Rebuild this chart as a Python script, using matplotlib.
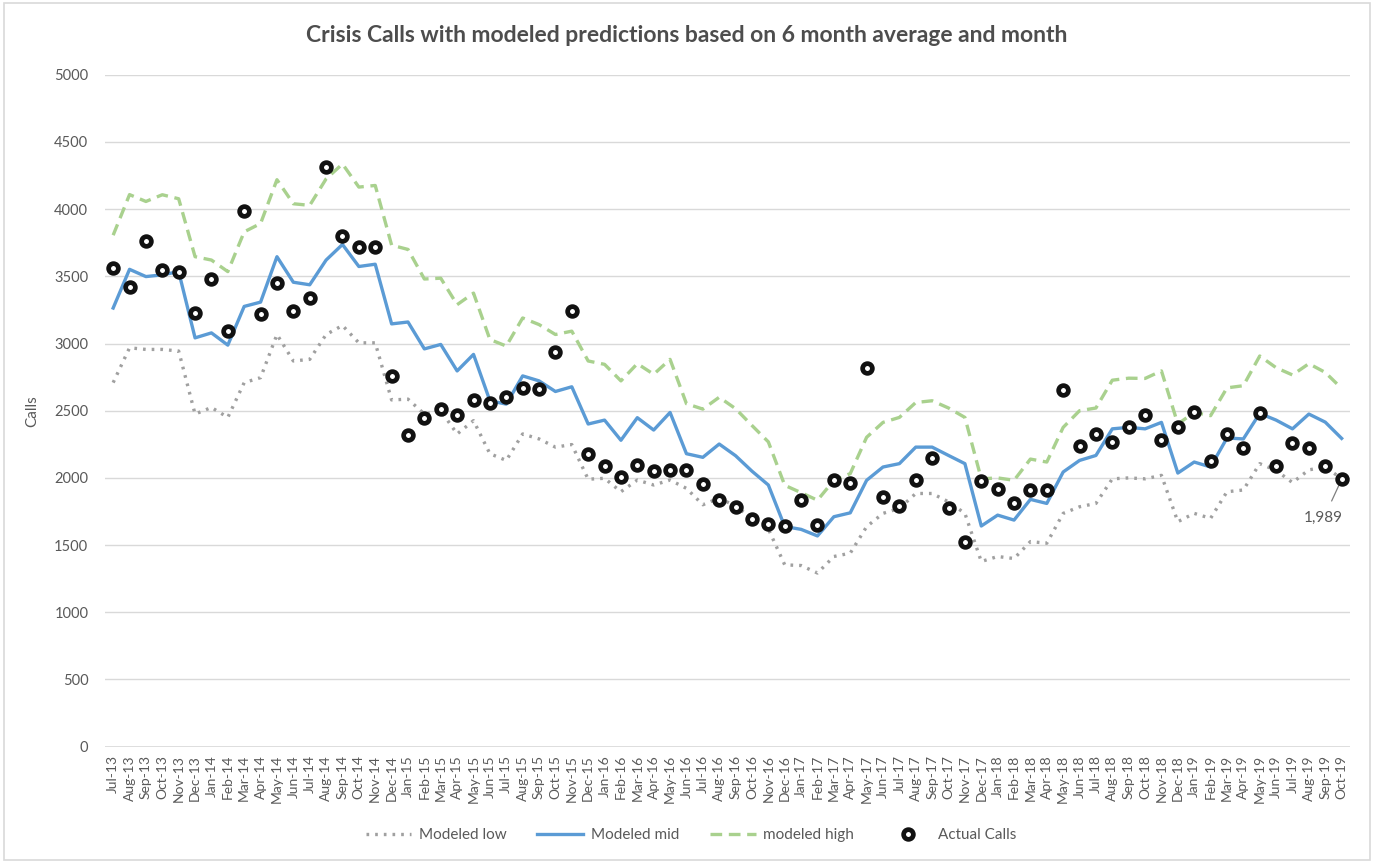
import numpy as np
import pandas as pd
import matplotlib
matplotlib.use("Agg")
import matplotlib.pyplot as plt
from matplotlib.patches import Rectangle

plt.rcParams['font.family'] = ['Lato', 'DejaVu Sans']

# monthly categories Jul-13 .. Oct-19
months = list(pd.date_range('2013-07-01', periods=76, freq='MS').strftime('%b-%y'))

actual_calls = [
    3560, 3420, 3760, 3545, 3530, 3230, 3480, 3095, 3985, 3220, 3450, 3240,
    3340, 4310, 3800, 3715, 3715, 2755, 2320, 2445, 2515, 2465, 2580, 2560,
    2605, 2670, 2665, 2935, 3245, 2180, 2090, 2010, 2098, 2052, 2060, 2060,
    1955, 1832, 1785, 1691, 1655, 1640, 1834, 1650, 1987, 1965, 2820, 1860,
    1790, 1987, 2147, 1773, 1526, 1975, 1921, 1815, 1913, 1913, 2653, 2234,
    2327, 2266, 2381, 2468, 2283, 2381, 2492, 2123, 2327, 2221, 2480, 2086,
    2259, 2221, 2086, 1989,
]
modeled_mid = [
    3264, 3552, 3498, 3511, 3535, 3042, 3079, 2988, 3276, 3308, 3646, 3456,
    3437, 3621, 3737, 3573, 3590, 3146, 3160, 2960, 2993, 2796, 2919, 2574,
    2549, 2759, 2722, 2643, 2678, 2401, 2430, 2280, 2448, 2356, 2487, 2180,
    2153, 2252, 2165, 2050, 1947, 1638, 1617, 1568, 1711, 1740, 1982, 2081,
    2106, 2229, 2229, 2167, 2106, 1642, 1723, 1686, 1840, 1810, 2044, 2130,
    2167, 2365, 2376, 2365, 2413, 2036, 2118, 2081, 2297, 2290, 2480, 2430,
    2365, 2475, 2415, 2294,
]
modeled_high = [
    3806, 4108, 4057, 4107, 4077, 3646, 3621, 3535, 3831, 3893, 4219, 4040,
    4028, 4225, 4336, 4164, 4176, 3732, 3700, 3480, 3486, 3289, 3375, 3030,
    2981, 3190, 3141, 3067, 3092, 2870, 2845, 2722, 2850, 2771, 2882, 2552,
    2512, 2600, 2515, 2390, 2268, 1945, 1890, 1834, 1982, 2032, 2302, 2413,
    2450, 2561, 2574, 2520, 2450, 1993, 2000, 1982, 2140, 2118, 2376, 2500,
    2520, 2727, 2742, 2740, 2796, 2401, 2487, 2463, 2670, 2686, 2907, 2820,
    2766, 2850, 2785, 2666,
]
modeled_low = [
    2709, 2968, 2956, 2956, 2944, 2475, 2524, 2450, 2709, 2746, 3067, 2870,
    2882, 3067, 3134, 3005, 3005, 2580, 2586, 2475, 2500, 2327, 2426, 2180,
    2130, 2327, 2290, 2229, 2248, 1990, 1997, 1897, 1984, 1947, 1984, 1922,
    1800, 1850, 1790, 1700, 1620, 1353, 1348, 1292, 1415, 1440, 1637, 1736,
    1773, 1884, 1884, 1822, 1736, 1378, 1415, 1400, 1526, 1514, 1736, 1785,
    1810, 1993, 2000, 1993, 2019, 1674, 1736, 1699, 1897, 1910, 2106, 2056,
    1965, 2060, 2080, 1995,
]

x = np.arange(len(months))

fig = plt.figure(figsize=(13.74, 8.63), dpi=100)
ax = fig.add_axes([0.0764, 0.1348, 0.906, 0.7786])

# outer chart border
fig.patches.append(Rectangle((0.003, 0.003), 0.994, 0.994, transform=fig.transFigure,
                             fill=False, edgecolor='#d9d9d9', linewidth=1.2))

ax.plot(x, modeled_low, color='#a0a0a0', linestyle=(0, (0.8, 1.8)), linewidth=2.4,
        label='Modeled low', zorder=2)
ax.plot(x, modeled_mid, color='#5b9bd5', linewidth=2.4, label='Modeled mid', zorder=3)
ax.plot(x, modeled_high, color='#a9d18e', linestyle=(0, (3.5, 2)), linewidth=2.4,
        label='modeled high', zorder=3)
ax.plot(x, actual_calls, linestyle='none', marker='o', markersize=7,
        markerfacecolor='white', markeredgecolor='#111111', markeredgewidth=3.4,
        label='Actual Calls', zorder=4)

# data label on last point
ax.annotate(f"{actual_calls[-1]:,}", xy=(x[-1], actual_calls[-1]),
            xytext=(x[-1] - 1.1, actual_calls[-1] - 290), ha='center', va='center',
            fontsize=11, color='#595959',
            arrowprops=dict(arrowstyle='-', color='#7f7f7f', linewidth=0.9,
                            shrinkA=6, shrinkB=4))

ax.set_xlim(-0.5, len(months) - 0.5)
ax.set_ylim(0, 5000)
ax.set_yticks(np.arange(0, 5001, 500))
ax.set_xticks(x)
ax.set_xticklabels(months, rotation=90, fontsize=10, color='#595959')
ax.tick_params(axis='y', labelsize=10.5, colors='#595959', length=0, pad=12)
ax.tick_params(axis='x', length=0, pad=6)
ax.yaxis.grid(True, color='#d9d9d9', linewidth=1)
ax.set_axisbelow(True)
for s in ax.spines.values():
    s.set_visible(False)
ax.axhline(0, color='#d9d9d9', linewidth=1.2, zorder=1)

ax.set_ylabel('Calls', fontsize=11, color='#595959')
ax.yaxis.set_label_coords(-0.053, 0.5)

fig.text(0.4995, 0.959, 'Crisis Calls with modeled predictions based on 6 month average and month',
         ha='center', va='center', fontsize=16.5, fontweight='bold', color='#4d4d4d')

ax.legend(loc='center', bbox_to_anchor=(0.503, 0.0325), bbox_transform=fig.transFigure,
          ncol=4, frameon=False, fontsize=11, labelcolor='#595959',
          handlelength=3.0, columnspacing=2.0, handletextpad=0.5)

fig.savefig('out.png', dpi=100)
